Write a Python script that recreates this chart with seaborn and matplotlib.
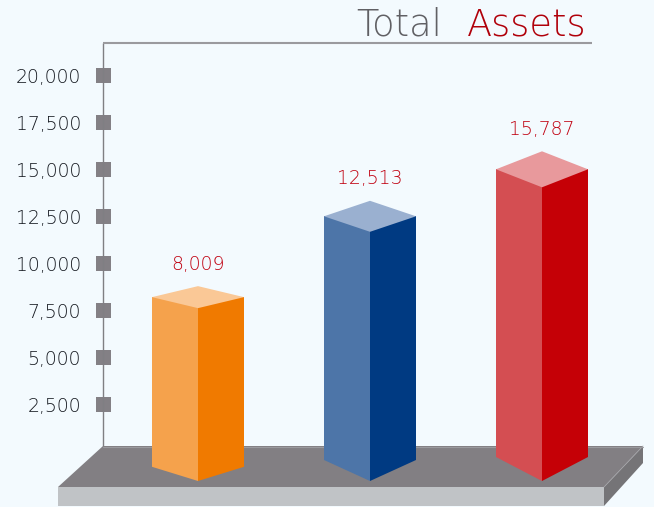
import matplotlib
matplotlib.use("Agg")
import matplotlib.pyplot as plt
import seaborn as sns
import pandas as pd
from matplotlib.patches import Polygon
from matplotlib.lines import Line2D
from matplotlib.transforms import Affine2D

# ---- data ----
categories = ["Bar 1", "Bar 2", "Bar 3"]
labelled_values = [8009, 12513, 15787]      # printed above each bar
drawn_heights = [8200, 12500, 15000]        # bar height as read against the axis
y_ticks = [2500, 5000, 7500, 10000, 12500, 15000, 17500, 20000]

# ---- style ----
BG = "#F3FAFE"
left_colors = ["#F5A24C", "#4D75A8", "#D44E52"]
right_colors = ["#F07A00", "#003A82", "#C50006"]
top_colors = ["#FAC896", "#9AB0D0", "#E8999C"]
top_half_px = [11, 15.5, 18]
side_drop_px = [15.5, 8.7, 5.7]
front_drop_px = 29.7

W, H = 654, 507
sns.set_theme(style="white")
plt.rcParams["font.family"] = ["DejaVu Sans"]
TEXT_WEIGHT = 200

fig = plt.figure(figsize=(W / 100, H / 100), dpi=100, facecolor=BG)
ax = fig.add_axes([103 / W, (H - 446) / H, 489 / W, 403 / H], facecolor=BG)

df = pd.DataFrame({
    "category": categories * 2,
    "height": drawn_heights * 2,
    "face": ["left"] * 3 + ["right"] * 3,
})
sns.barplot(data=df, x="category", y="height", hue="face", dodge=True, gap=0,
            width=92 / 172, saturation=1, legend=False, ax=ax, linewidth=0,
            edgecolor="none", zorder=3)

UNITS_PER_PX = 2500 / 47
ax.set_xlim((103 - 198) / 172, (592 - 198) / 172)
ax.set_ylim((451.3 - 446) * UNITS_PER_PX, (451.3 - 43) * UNITS_PER_PX)
ax.set_xlabel("")
ax.set_ylabel("")
ax.set_xticks([])

# axis styling: square tick marks sitting on the left spine
ax.set_yticks(y_ticks)
ax.set_yticklabels([f"{v:,}" for v in y_ticks])
ax.tick_params(axis="y", length=10.8, pad=5.0, labelsize=13.5, labelcolor="#14181F",
               left=True, color="#838085")
for t in ax.yaxis.get_major_ticks():
    t.tick1line.set_marker("s")
    t.tick1line.set_markersize(10.8)
    t.tick1line.set_markeredgewidth(0)
    t.tick1line.set_markerfacecolor("#838085")
    t.tick1line.set_zorder(5)
    t.label1.set_fontweight(TEXT_WEIGHT)
for s in ("right", "bottom"):
    ax.spines[s].set_visible(False)
ax.spines["left"].set_color("#7F7F83")
ax.spines["left"].set_linewidth(1.0)
ax.spines["left"].set_capstyle("butt")
ax.spines["top"].set_color("#9A9A9E")
ax.spines["top"].set_linewidth(1.5)
ax.spines["top"].set_capstyle("butt")

# 3D faces built on the seaborn bars
left_bars, right_bars = ax.containers[0], ax.containers[1]
for i, (lb, rb) in enumerate(zip(left_bars, right_bars)):
    for bar, col in ((lb, left_colors[i]), (rb, right_colors[i])):
        bar.set_facecolor(col)
        bar.set_clip_on(False)
    xl, xc, xr = lb.get_x(), rb.get_x(), rb.get_x() + rb.get_width()
    h = lb.get_height()
    d = top_half_px[i] * UNITS_PER_PX
    side = -side_drop_px[i] * UNITS_PER_PX
    front = -front_drop_px * UNITS_PER_PX
    lap = 150
    ax.add_patch(Polygon([(xl, lap), (xc, lap), (xc, front), (xl, side)], closed=True,
                         fc=left_colors[i], ec="none", clip_on=False, zorder=3))
    ax.add_patch(Polygon([(xc, lap), (xr, lap), (xr, side), (xc, front)], closed=True,
                         fc=right_colors[i], ec="none", clip_on=False, zorder=3))
    ax.add_patch(Polygon([(xl, h), (xc, h + d), (xr, h), (xc, h - d)], closed=True,
                         fc=top_colors[i], ec="none", clip_on=False, zorder=4))
    ax.annotate(f"{labelled_values[i]:,}", xy=((xl + xr) / 2, h + d), xytext=(0, 15.8),
                textcoords="offset points", ha="center", va="center", fontsize=13.5,
                fontweight=TEXT_WEIGHT, color="#C00010", annotation_clip=False, zorder=6)

# platform, drawn in figure pixels
px = Affine2D().scale(1, -1).translate(0, H)
def slab(points, color):
    fig.add_artist(Polygon(points, closed=True, fc=color, ec="none", transform=px, zorder=0.5))
slab([(103, 446), (643, 446), (604, 487), (58, 487)], "#827F83")
slab([(58, 487), (604, 487), (604, 506), (58, 506)], "#C0C3C6")
slab([(604, 487), (643, 446), (643, 463), (604, 506)], "#757477")
fig.add_artist(Line2D([604, 643], [487, 446], color="#A4A4A8", lw=0.6, transform=px, zorder=0.6))
fig.add_artist(Line2D([103, 643], [446.5, 446.5], color="#9A9A9E", lw=0.8, transform=px, zorder=0.6))
ax.set_zorder(1)
ax.patch.set_alpha(0)

# title
fig.text(356 / W, 1 - 35 / H, "Total", fontsize=26.5, fontweight=TEXT_WEIGHT, color="#606064",
         ha="left", va="baseline")
fig.text(587 / W, 1 - 35 / H, "Assets", fontsize=26.5, fontweight=TEXT_WEIGHT, color="#B0000A",
         ha="right", va="baseline")

fig.savefig("out.png", dpi=100, facecolor=BG)
